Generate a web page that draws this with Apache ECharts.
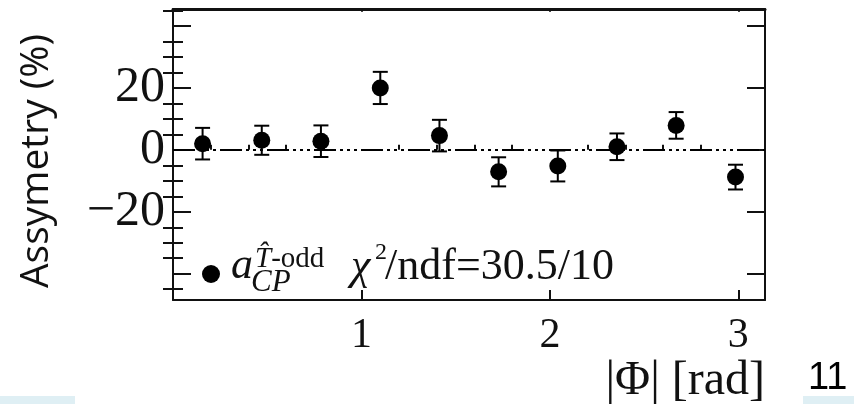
<!DOCTYPE html>
<html>
<head>
<meta charset="utf-8">
<script src="https://cdn.jsdelivr.net/npm/echarts@6/dist/echarts.min.js"></script>
<style>
html,body{margin:0;padding:0;background:#fff;}
#chart{width:854px;height:404px;}
</style>
</head>
<body>
<div id="chart"></div>
<script>
// Data
var phi = [0.157, 0.471, 0.785, 1.100, 1.414, 1.728, 2.042, 2.356, 2.670, 2.985];
var asym = [2.0, 3.1, 2.8, 20.0, 4.6, -7.1, -5.2, 1.0, 7.9, -8.8];
var err = [5.1, 4.7, 5.1, 5.2, 5.1, 4.7, 5.0, 4.3, 4.3, 4.0];

var xMajorTicks = [1, 2, 3];
var xMinorTicks = [0.2, 0.4, 0.6, 0.8, 1.2, 1.4, 1.6, 1.8, 2.2, 2.4, 2.6, 2.8];
var yMajorTicks = [-40, -20, 0, 20, 40];
var yMinorTicks = [-45, -35, -30, -25, -15, -10, -5, 5, 10, 15, 25, 30, 35, 45];
var yTickLabels = [-20, 0, 20];
var xTickLabels = [1, 2, 3];

var yMin = -48.5, yMax = 45.5;
var xMin = 0, xMax = Math.PI;

var serif = "'Liberation Serif','Times New Roman',serif";
var ink = '#111';

var points = phi.map(function (x, i) { return [x, asym[i]]; });
var bars = phi.map(function (x, i) { return [x, asym[i] - err[i], asym[i] + err[i]]; });

function xAx(extra) {
  var base = {
    type: 'value', min: xMin, max: xMax, gridIndex: 0,
    splitLine: { show: false },
    axisLine: { show: false },
    axisLabel: { show: false },
    axisTick: { show: false }
  };
  return Object.assign(base, extra);
}
function yAx(extra) {
  var base = {
    type: 'value', min: yMin, max: yMax, gridIndex: 0,
    splitLine: { show: false },
    axisLine: { show: false },
    axisLabel: { show: false },
    axisTick: { show: false }
  };
  return Object.assign(base, extra);
}

var chart = echarts.init(document.getElementById('chart'));
chart.setOption({
  backgroundColor: '#fff',
  animation: false,
  grid: { left: 173, top: 9, right: 89, bottom: 104, containLabel: false, outerBoundsMode: 'none' },
  xAxis: [
    xAx({
      position: 'bottom',
      axisLine: { show: true, onZero: false, lineStyle: { color: ink, width: 2 } },
      axisTick: { show: true, inside: true, length: 10, customValues: xMajorTicks, lineStyle: { color: ink, width: 2 } },
      axisLabel: { show: true, customValues: xTickLabels, margin: 15, color: ink, fontFamily: serif, fontSize: 42 }
    }),
    xAx({
      position: 'bottom',
      axisTick: { show: true, inside: true, length: 5, customValues: xMinorTicks, lineStyle: { color: ink, width: 2 } }
    }),
    xAx({
      position: 'top',
      axisLine: { show: true, onZero: false, lineStyle: { color: ink, width: 3 } },
      axisTick: { show: true, inside: true, length: 3, customValues: xMajorTicks, lineStyle: { color: ink, width: 1.5 } }
    })
  ],
  yAxis: [
    yAx({
      position: 'left',
      axisLine: { show: true, onZero: false, lineStyle: { color: ink, width: 2 } },
      axisTick: { show: true, inside: true, length: 18, customValues: yMajorTicks, lineStyle: { color: ink, width: 2 } },
      axisLabel: {
        show: true, customValues: yTickLabels, margin: 8, color: ink, fontFamily: serif, fontSize: 50,
        formatter: function (v) { return String(v).replace('-', '\u2212'); }
      },
      name: 'Assymetry (%)', nameLocation: 'middle', nameRotate: 90, nameGap: 117,
      nameTextStyle: { color: ink, fontFamily: "'Open Sans',sans-serif", fontSize: 39, padding: [0, 13, 0, 0] }
    }),
    yAx({
      position: 'left',
      axisTick: { show: true, inside: true, length: 10, customValues: yMinorTicks, lineStyle: { color: ink, width: 2 } }
    }),
    yAx({
      position: 'right',
      axisLine: { show: true, onZero: false, lineStyle: { color: ink, width: 2 } },
      axisTick: { show: true, inside: true, length: 18, customValues: yMajorTicks, lineStyle: { color: ink, width: 2 } }
    }),
    yAx({
      position: 'right',
      axisTick: { show: true, inside: true, length: 10, customValues: yMinorTicks, lineStyle: { color: ink, width: 2 } }
    })
  ],
  series: [
    {
      type: 'custom',
      name: 'errors',
      xAxisIndex: 0, yAxisIndex: 0,
      data: bars,
      z: 3,
      renderItem: function (params, api) {
        var x = api.value(0);
        var lo = api.coord([x, api.value(1)]);
        var hi = api.coord([x, api.value(2)]);
        var hw = 7.5;
        var st = { stroke: '#000', lineWidth: 2, fill: null };
        return {
          type: 'group',
          children: [
            { type: 'line', shape: { x1: lo[0], y1: lo[1], x2: hi[0], y2: hi[1] }, style: st },
            { type: 'line', shape: { x1: lo[0] - hw, y1: lo[1], x2: lo[0] + hw, y2: lo[1] }, style: st },
            { type: 'line', shape: { x1: hi[0] - hw, y1: hi[1], x2: hi[0] + hw, y2: hi[1] }, style: st }
          ]
        };
      }
    },
    {
      type: 'scatter',
      name: 'asym',
      xAxisIndex: 0, yAxisIndex: 0,
      data: points,
      symbol: 'circle',
      symbolSize: 17,
      itemStyle: { color: '#000', opacity: 1 },
      z: 4,
      markLine: {
        silent: true,
        symbol: ['none', 'none'],
        label: { show: false },
        lineStyle: { color: '#000', width: 2, opacity: 1, type: [22, 4, 3, 4, 3, 4, 3, 4] },
        data: [{ yAxis: 0 }]
      }
    }
  ],
  graphic: [
    { type: 'rect', left: 0, top: 396, shape: { width: 75, height: 8 }, style: { fill: '#dfeff4' } },
    { type: 'rect', left: 803, top: 396, shape: { width: 51, height: 8 }, style: { fill: '#dfeff4' } },
    { type: 'text', right: 89, top: 357, style: { text: '|Φ| [rad]', fill: ink, font: "48px " + serif } },
    { type: 'text', left: 808, top: 360, style: { text: '11', fill: '#000', font: "38px 'Liberation Sans', Arial, sans-serif" } },
    // legend
    { type: 'circle', shape: { cx: 211, cy: 274, r: 9 }, style: { fill: '#000' } },
    { type: 'text', x: 231, y: 288, style: { text: 'a', fill: ink, font: "italic 44px " + serif, textVerticalAlign: 'bottom' } },
    { type: 'text', x: 255, y: 274, style: {
        text: '{i|T\u0302}{n|-odd}', textVerticalAlign: 'bottom',
        rich: { i: { fontFamily: serif, fontStyle: 'italic', fontSize: 29, fill: ink }, n: { fontFamily: serif, fontSize: 29, fill: ink } } } },
    { type: 'text', x: 251, y: 298, style: { text: 'CP', fill: ink, font: "italic 31px " + serif, textVerticalAlign: 'bottom' } },
    { type: 'text', x: 351, y: 289, style: { text: 'χ', fill: ink, font: "italic 44px " + serif, textVerticalAlign: 'bottom' } },
    { type: 'text', x: 375, y: 241, style: { text: '2', fill: ink, font: "24px " + serif, textVerticalAlign: 'top' } },
    { type: 'text', x: 385, y: 289, style: { text: '/ndf=30.5/10', fill: ink, font: "44px " + serif, textVerticalAlign: 'bottom' } }
  ]
});
</script>
</body>
</html>
